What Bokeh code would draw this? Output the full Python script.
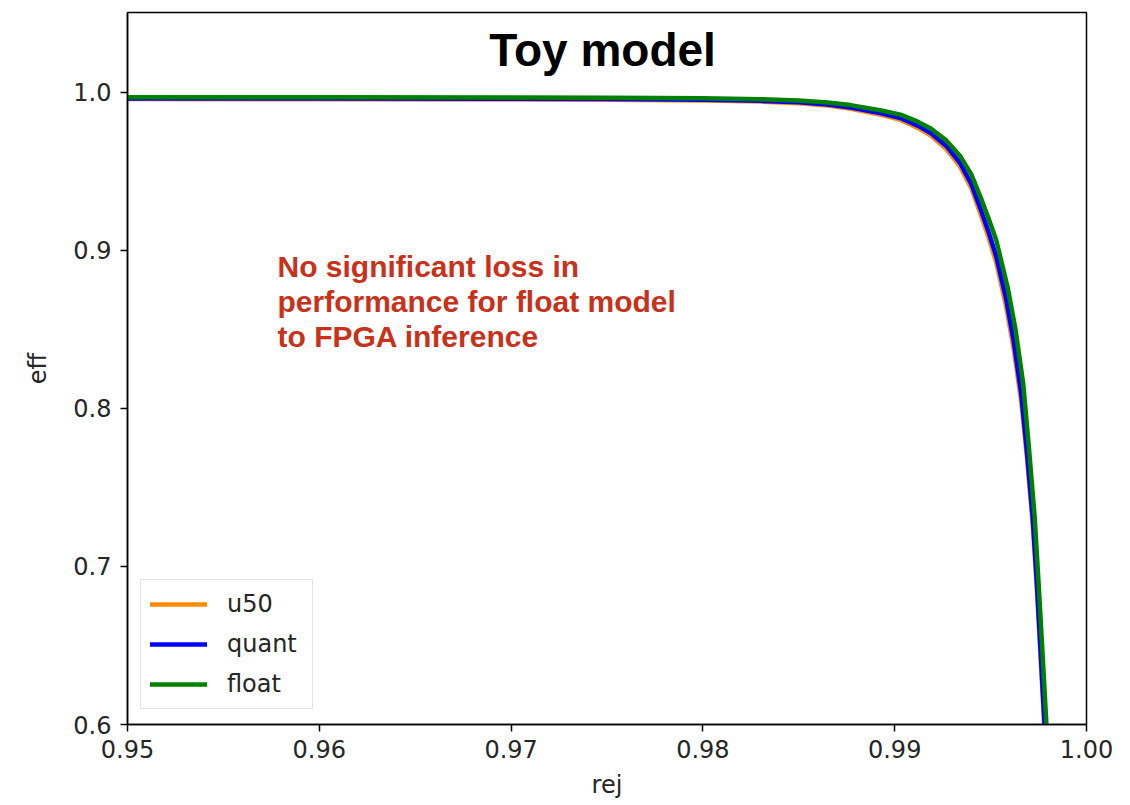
from bokeh.plotting import figure
from bokeh.models import Range1d, FixedTicker, Legend, LegendItem, Label, NumeralTickFormatter
from bokeh.embed import file_html
from bokeh.resources import INLINE

# ---- data ----
u50_rej = [0.9500, 0.9600, 0.9700, 0.9750, 0.9800, 0.9830, 0.9850, 0.9865, 0.9877, 0.9893, 0.9903,
           0.9912, 0.9919, 0.9927, 0.9934, 0.9940, 0.9945, 0.9949, 0.9953, 0.9958, 0.9962, 0.9966,
           0.9969, 0.9972, 0.9974, 0.9976, 0.9978, 0.99795]
u50_eff = [0.9958, 0.9957, 0.9956, 0.9954, 0.9949, 0.9942, 0.9932, 0.9917, 0.9897, 0.9858, 0.9826,
           0.9776, 0.9725, 0.9640, 0.9532, 0.9392, 0.9222, 0.9080, 0.8920, 0.8650, 0.8380, 0.8040,
           0.7680, 0.7260, 0.6880, 0.6440, 0.5990, 0.5500]

quant_rej = [0.9500, 0.9600, 0.9700, 0.9750, 0.9800, 0.9830, 0.9850, 0.9865, 0.9877, 0.9893, 0.9903,
             0.9912, 0.9919, 0.9927, 0.9934, 0.9940, 0.9945, 0.9949, 0.9953, 0.9958, 0.9962, 0.9966,
             0.9969, 0.9972, 0.9974, 0.9976, 0.9978, 0.9980]
quant_eff = [0.9962, 0.9961, 0.9960, 0.9958, 0.9954, 0.9947, 0.9938, 0.9924, 0.9905, 0.9868, 0.9838,
             0.9790, 0.9742, 0.9660, 0.9555, 0.9420, 0.9255, 0.9115, 0.8960, 0.8700, 0.8430, 0.8090,
             0.7720, 0.7300, 0.6920, 0.6480, 0.6030, 0.5500]

float_rej = [0.9500, 0.9600, 0.9700, 0.9750, 0.9800, 0.9830, 0.9850, 0.9865, 0.9877, 0.9893, 0.9903,
             0.9912, 0.9919, 0.9927, 0.9934, 0.9940, 0.9945, 0.9949, 0.9953, 0.9959, 0.9963, 0.9967,
             0.9970, 0.9973, 0.9975, 0.9977, 0.9979, 0.9981]
float_eff = [0.9970, 0.9969, 0.9968, 0.9966, 0.9963, 0.9957, 0.9949, 0.9937, 0.9920, 0.9886, 0.9860,
             0.9815, 0.9770, 0.9695, 0.9600, 0.9480, 0.9330, 0.9200, 0.9063, 0.8760, 0.8500, 0.8158,
             0.7750, 0.7310, 0.6900, 0.6468, 0.6025, 0.5500]

series_names = ["u50", "quant", "float"]
series_colors = ["#FF8C00", "#0000FF", "#008000"]

x_ticks = [0.95, 0.96, 0.97, 0.98, 0.99, 1.00]
y_ticks = [0.6, 0.7, 0.8, 0.9, 1.0]

title_text = "Toy model"
note_lines = ["No significant loss in", "performance for float model", "to FPGA inference"]

# ---- figure ----
W, H = 1114, 805
p = figure(width=W, height=H, output_backend="svg", toolbar_location=None,
           x_range=Range1d(0.95, 1.00), y_range=Range1d(0.6, 1.0506),
           min_border_left=127, min_border_right=28, min_border_top=12, min_border_bottom=81)
p.background_fill_color = "white"
p.border_fill_color = "white"
p.xgrid.visible = False
p.ygrid.visible = False
p.outline_line_color = "black"
p.outline_line_width = 1.5
p.outline_line_alpha = 1.0

for ax in (p.xaxis[0], p.yaxis[0]):
    ax.axis_line_color = "black"
    ax.axis_line_width = 1.5
    ax.major_tick_line_color = "black"
    ax.major_tick_line_width = 1.5
    ax.major_tick_out = 7
    ax.major_tick_in = 0
    ax.minor_tick_line_color = None
    ax.major_label_text_font = "DejaVu Sans"
    ax.major_label_text_font_size = "24px"
    ax.major_label_text_color = "#262626"
    ax.axis_label_text_font = "DejaVu Sans"
    ax.axis_label_text_font_size = "24px"
    ax.axis_label_text_font_style = "normal"
    ax.axis_label_text_color = "#262626"

p.xaxis.ticker = FixedTicker(ticks=x_ticks)
p.yaxis.ticker = FixedTicker(ticks=y_ticks)
p.xaxis.formatter = NumeralTickFormatter(format="0.00")
p.yaxis.formatter = NumeralTickFormatter(format="0.0")
p.xaxis.axis_label = "rej"
p.yaxis.axis_label = "eff"
p.xaxis.major_label_standoff = 8
p.yaxis.major_label_standoff = 9
p.xaxis.axis_label_standoff = 10
p.yaxis.axis_label_standoff = 18

renderers = []
for rej, eff, c in [(u50_rej, u50_eff, series_colors[0]),
                    (quant_rej, quant_eff, series_colors[1]),
                    (float_rej, float_eff, series_colors[2])]:
    r = p.line(rej, eff, line_color=c, line_width=4.5, line_join="round", line_cap="round")
    renderers.append(r)

legend = Legend(items=[LegendItem(label=n, renderers=[r]) for n, r in zip(series_names, renderers)],
                location=(13, 15))
legend.label_text_font = "DejaVu Sans"
legend.label_text_font_size = "24px"
legend.label_text_color = "#262626"
legend.glyph_width = 57
legend.glyph_height = 30
legend.label_height = 30
legend.label_width = 76
legend.label_standoff = 20
legend.spacing = 10
legend.padding = 9
legend.margin = 0
legend.border_line_color = "#cccccc"
legend.border_line_width = 1.5
legend.background_fill_color = "white"
legend.background_fill_alpha = 0.8
p.add_layout(legend, "center")

p.add_layout(Label(x=0.97477, y=1.0269, text=title_text, text_align="center",
                   text_baseline="alphabetic", text_font="Liberation Sans",
                   text_font_style="bold", text_font_size="46px", text_color="black"))

note_y = [0.8898, 0.8677, 0.8455]
for t, yy in zip(note_lines, note_y):
    p.add_layout(Label(x=0.95782, y=yy, text=t, text_align="left", text_baseline="alphabetic",
                       text_font="Liberation Sans", text_font_style="bold",
                       text_font_size="30px", text_color="#C8311A"))

open("out.html", "w").write(file_html(p, INLINE))
